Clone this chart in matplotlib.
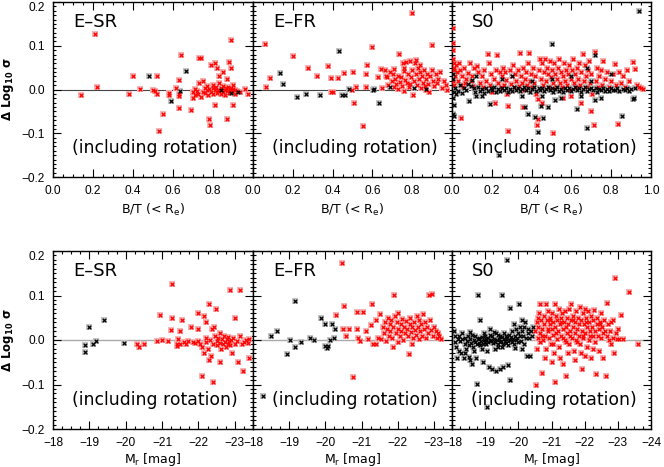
import matplotlib
matplotlib.use("Agg")
import matplotlib.pyplot as plt
from matplotlib.ticker import MultipleLocator, FixedLocator, FixedFormatter
import numpy as np

# ---------------- data: top row (B/T, delta log sigma) ----------------
esr_top_red = [(0.14,-0.013),(0.21,0.126),(0.22,0.006),(0.38,-0.010),(0.40,0.032),(0.435,0.001),(0.50,-0.002),(0.51,-0.003),
    (0.52,0.031),(0.52,-0.010),(0.53,-0.095),(0.55,-0.056),(0.58,-0.007),(0.58,-0.012),(0.615,0.003),(0.63,-0.010),(0.63,-0.015),
    (0.63,0.022),(0.63,-0.043),(0.64,0.080),(0.69,-0.047),(0.70,-0.005),(0.70,-0.020),(0.71,0.002),(0.72,-0.003),(0.725,-0.010),
    (0.73,0.015),(0.73,0.072),(0.74,0.072),(0.74,-0.018),(0.75,0.020),(0.75,-0.005),(0.76,0.003),(0.76,-0.008),(0.77,-0.001),
    (0.77,0.008),(0.775,-0.012),(0.78,-0.067),(0.785,-0.080),(0.78,0.002),(0.79,0.055),(0.79,-0.005),(0.80,-0.010),(0.80,0.003),
    (0.80,0.010),(0.81,0.060),(0.81,-0.036),(0.81,-0.002),(0.815,0.005),(0.82,0.050),(0.82,-0.008),(0.825,0.000),(0.83,0.030),
    (0.83,0.016),(0.83,-0.004),(0.84,-0.010),(0.84,0.004),(0.845,-0.002),(0.85,0.040),(0.85,0.008),(0.85,-0.006),(0.86,0.000),
    (0.86,-0.012),(0.865,0.004),(0.87,0.023),(0.87,-0.068),(0.87,-0.003),(0.875,0.006),(0.88,0.062),(0.88,-0.008),(0.885,0.000),
    (0.89,0.113),(0.89,0.050),(0.89,0.003),(0.895,-0.005),(0.90,-0.036),(0.90,0.001),(0.91,-0.002),(0.91,-0.010),(0.92,-0.004),
    (0.935,-0.006),(0.71,-0.012),(0.96,0.001),(0.975,-0.010),(0.90,0.011)]
esr_top_blk = [(0.48,0.030),(0.59,-0.026),(0.665,0.042),(0.635,-0.003),(0.84,-0.002),(0.89,-0.008),(0.925,-0.005)]

efr_top_red = [(0.06,0.104),(0.063,0.006),(0.085,0.026),(0.20,0.076),(0.277,0.050),(0.32,0.030),(0.377,0.054),(0.39,0.026),
    (0.39,-0.006),(0.40,-0.006),(0.427,0.027),(0.455,0.037),(0.498,0.000),(0.50,0.039),(0.51,-0.030),(0.52,0.006),(0.552,-0.083),
    (0.568,0.006),(0.57,0.036),(0.575,0.056),(0.597,0.098),(0.627,0.028),(0.643,0.048),(0.65,0.004),(0.665,0.045),(0.67,0.030),
    (0.675,0.028),(0.68,0.010),(0.69,0.040),(0.70,0.020),(0.705,0.035),(0.71,0.005),(0.715,0.025),(0.72,0.012),(0.73,0.030),
    (0.735,0.081),(0.74,0.018),(0.745,0.028),(0.75,0.008),(0.755,0.060),(0.757,0.050),(0.76,0.042),(0.765,0.022),(0.77,0.062),
    (0.775,0.015),(0.78,0.035),(0.785,0.005),(0.79,0.065),(0.795,0.028),(0.798,0.176),(0.80,0.045),(0.805,-0.013),(0.81,0.020),
    (0.815,0.060),(0.82,0.035),(0.825,0.010),(0.83,0.050),(0.835,0.025),(0.84,0.040),(0.845,0.003),(0.85,0.030),(0.855,0.015),
    (0.86,0.045),(0.865,0.008),(0.87,0.025),(0.875,0.035),(0.88,0.012),(0.885,-0.005),(0.89,0.030),(0.898,0.102),(0.90,0.045),
    (0.905,0.020),(0.91,0.008),(0.92,0.035),(0.925,0.015),(0.93,0.025),(0.94,0.040),(0.95,0.003),(0.96,0.020),(0.97,0.010),
    (0.975,0.000),(0.71,0.048),(0.73,0.002),(0.82,0.068),(0.84,0.055),(0.76,-0.003),(0.87,0.000),(0.79,0.012)]
efr_top_blk = [(0.138,0.037),(0.152,0.013),(0.223,-0.016),(0.265,-0.011),(0.335,-0.013),(0.43,0.089),(0.447,-0.012),(0.463,-0.012),
    (0.48,0.001),(0.605,0.000),(0.61,0.001),(0.632,-0.031),(0.69,0.005),(0.81,0.003),(0.87,0.002)]

s0_top_red = [(0.003,0.141),(0.003,0.107),(0.005,0.090),(0.005,0.070),(0.008,0.060),(0.010,0.050),(0.012,0.045),(0.015,0.030),
    (0.005,0.020),(0.010,0.010),(0.020,0.055),(0.025,0.040),(0.030,0.020),(0.035,0.060),(0.040,0.045),(0.045,0.010),(0.044,-0.064),
    (0.050,0.030),(0.055,0.005),(0.060,0.050),(0.065,0.015),(0.070,0.025),(0.080,0.038),(0.090,0.060),(0.095,0.020),(0.100,0.030),
    (0.105,0.008),(0.110,0.050),(0.124,0.053),(0.130,0.040),(0.140,0.015),(0.150,0.030),(0.155,0.005),(0.160,0.045),(0.170,0.020),
    (0.183,0.081),(0.185,0.060),(0.190,0.010),(0.195,0.035),(0.200,-0.005),(0.210,0.025),(0.215,-0.030),(0.220,0.045),(0.228,0.080),
    (0.230,0.015),(0.240,0.040),(0.245,0.005),(0.250,0.030),(0.255,0.050),(0.260,0.010),(0.265,0.040),(0.270,0.022),(0.275,-0.010),
    (0.283,-0.095),(0.283,-0.037),(0.290,0.045),(0.295,0.012),(0.300,0.030),(0.305,0.055),(0.310,0.005),(0.315,0.035),(0.320,0.020),
    (0.330,0.045),(0.335,0.008),(0.340,0.083),(0.345,0.030),(0.350,0.015),(0.355,0.050),(0.360,0.000),(0.365,0.025),(0.370,0.040),
    (0.375,0.010),(0.380,0.060),(0.387,0.084),(0.390,0.020),(0.395,0.035),(0.400,0.005),(0.405,0.050),(0.410,0.015),(0.415,0.030),
    (0.420,-0.010),(0.426,-0.081),(0.430,-0.022),(0.432,-0.067),(0.435,0.045),(0.440,0.070),(0.445,0.025),(0.450,0.060),(0.455,0.010),
    (0.460,0.040),(0.465,0.070),(0.470,0.020),(0.475,0.050),(0.480,0.035),(0.485,0.005),(0.490,0.065),(0.495,0.028),(0.500,0.045),
    (0.506,-0.100),(0.510,0.015),(0.515,0.060),(0.520,0.035),(0.525,0.005),(0.530,0.025),(0.535,0.050),(0.540,0.070),(0.545,0.015),
    (0.550,0.040),(0.555,0.005),(0.560,0.030),(0.565,0.060),(0.570,0.020),(0.575,0.045),(0.580,0.010),(0.585,0.035),(0.590,0.055),
    (0.595,0.000),(0.600,0.025),(0.605,0.045),(0.610,0.070),(0.615,0.015),(0.620,0.035),(0.625,0.005),(0.630,0.050),(0.635,0.025),
    (0.640,0.060),(0.645,0.010),(0.650,0.040),(0.660,0.081),(0.665,0.020),(0.670,0.055),(0.675,0.030),(0.680,0.005),(0.685,0.045),
    (0.690,0.065),(0.695,0.015),(0.700,0.035),(0.705,-0.010),(0.714,-0.081),(0.720,0.085),(0.725,0.020),(0.730,0.050),(0.735,0.005),
    (0.740,0.030),(0.750,0.045),(0.755,0.010),(0.760,0.065),(0.770,0.025),(0.780,0.040),(0.790,0.005),(0.800,0.020),(0.810,0.035),
    (0.819,0.058),(0.825,0.010),(0.836,-0.078),(0.840,0.040),(0.850,0.015),(0.860,0.030),(0.870,0.005),(0.880,0.045),(0.890,0.020),
    (0.908,0.063),(0.920,0.048),(0.930,0.010),(0.940,0.005),(0.950,0.003),(0.960,0.002),(0.355,-0.040),(0.450,-0.030),(0.600,-0.015),
    (0.650,-0.030),(0.700,-0.050),(0.560,-0.020)]
s0_top_blk = [(0.003,0.035),(0.005,0.025),(0.008,-0.005),(0.005,-0.020),(0.010,-0.035),(0.006,-0.055),(0.012,-0.060),(0.015,0.003),
    (0.020,-0.010),(0.030,-0.003),(0.040,0.010),(0.050,-0.008),(0.060,0.004),(0.070,-0.002),(0.080,0.012),(0.087,-0.027),(0.095,0.008),
    (0.100,0.022),(0.110,0.003),(0.115,-0.005),(0.120,-0.015),(0.130,0.006),(0.140,-0.003),(0.150,0.002),(0.160,-0.008),(0.170,0.004),
    (0.180,-0.004),(0.190,-0.033),(0.195,0.003),(0.200,-0.002),(0.210,0.005),(0.220,-0.006),(0.230,0.002),(0.235,-0.150),(0.240,-0.003),
    (0.250,0.004),(0.260,-0.001),(0.270,0.003),(0.280,-0.005),(0.290,0.002),(0.300,-0.003),(0.310,0.006),(0.320,-0.002),(0.330,0.003),
    (0.340,-0.004),(0.350,0.001),(0.360,0.005),(0.367,-0.041),(0.370,-0.002),(0.380,0.003),(0.384,-0.056),(0.390,-0.005),(0.400,0.002),
    (0.410,0.006),(0.417,-0.063),(0.420,-0.003),(0.430,-0.096),(0.435,0.004),(0.440,-0.001),(0.446,-0.037),(0.450,0.003),(0.455,-0.064),
    (0.460,-0.004),(0.470,0.002),(0.480,0.006),(0.490,-0.002),(0.500,0.104),(0.505,0.003),(0.510,-0.005),(0.520,0.001),(0.530,0.005),
    (0.540,-0.003),(0.550,0.002),(0.560,-0.006),(0.570,0.004),(0.580,-0.001),(0.590,0.003),(0.600,-0.004),(0.610,0.001),(0.620,0.005),
    (0.626,-0.044),(0.630,-0.002),(0.640,0.003),(0.650,-0.005),(0.660,0.002),(0.670,0.006),(0.677,-0.089),(0.680,-0.003),(0.690,0.001),
    (0.700,0.004),(0.710,-0.002),(0.720,0.078),(0.725,0.003),(0.730,-0.005),(0.740,0.002),(0.750,-0.001),(0.760,0.004),(0.770,-0.003),
    (0.780,0.002),(0.790,-0.004),(0.800,0.003),(0.810,0.000),(0.820,-0.002),(0.830,0.004),(0.840,-0.003),(0.853,-0.061),(0.860,0.002),
    (0.870,-0.001),(0.880,0.003),(0.890,-0.004),(0.900,0.001),(0.908,-0.021),(0.915,-0.020),(0.920,0.003),(0.940,0.179),(0.250,0.025),
    (0.300,0.030),(0.400,0.020),(0.500,0.025),(0.600,0.030),(0.700,0.020),(0.450,-0.015),(0.550,-0.020),(0.650,-0.015),(0.750,-0.020),
    (0.350,-0.015),(0.150,-0.015),(0.800,0.035),(0.120,0.030),(0.480,-0.040),(0.520,-0.025),(0.680,0.050),(0.720,-0.025)]

# ---------------- data: bottom row (M_r, delta log sigma) ----------------
esr_bot_red = [(-20.30,-0.010),(-20.36,-0.015),(-20.50,-0.008),(-20.85,-0.002),(-21.00,-0.001),(-20.94,0.057),(-21.15,-0.002),
    (-21.26,0.125),(-21.26,0.050),(-21.25,0.022),(-21.40,-0.008),(-21.42,-0.014),(-21.45,0.002),(-21.50,0.020),(-21.55,0.044),
    (-21.48,-0.008),(-21.60,-0.005),(-21.65,-0.010),(-21.70,-0.003),(-21.80,0.030),(-21.85,-0.004),(-21.90,-0.006),(-21.98,0.025),
    (-21.99,0.060),(-22.00,-0.003),(-22.05,-0.008),(-22.09,-0.080),(-22.10,-0.015),(-22.15,-0.030),(-22.20,-0.005),(-22.22,0.004),
    (-22.25,-0.020),(-22.29,0.080),(-22.30,-0.045),(-22.32,0.000),(-22.35,-0.035),(-22.40,-0.095),(-22.40,-0.010),(-22.42,0.030),
    (-22.45,0.008),(-22.48,0.070),(-22.50,-0.002),(-22.52,-0.012),(-22.55,0.005),(-22.58,-0.006),(-22.60,0.015),(-22.62,-0.020),
    (-22.65,0.002),(-22.68,-0.010),(-22.70,0.010),(-22.72,-0.004),(-22.75,-0.015),(-22.78,0.003),(-22.80,-0.008),(-22.82,0.006),
    (-22.85,-0.002),(-22.86,0.113),(-22.88,-0.012),(-22.90,0.000),(-22.92,-0.030),(-22.95,0.005),(-23.00,0.050),(-23.00,-0.008),
    (-23.05,-0.003),(-23.10,-0.050),(-23.14,0.113),(-23.15,0.010),(-23.20,-0.008),(-23.23,-0.070),(-23.26,-0.004),(-23.30,0.000),
    (-23.35,-0.006),(-23.40,0.003),(-23.40,-0.040),(-22.20,0.040),(-22.38,0.025),(-22.15,0.055),(-22.60,-0.050)]
esr_bot_blk = [(-18.87,-0.012),(-18.87,-0.026),(-18.98,0.030),(-19.10,-0.008),(-19.19,-0.003),(-19.40,0.044),(-19.95,-0.006)]

efr_bot_red = [(-20.30,0.057),(-20.45,0.174),(-20.51,0.076),(-20.48,0.024),(-20.57,0.009),(-20.65,0.024),(-20.76,-0.084),(-20.87,0.062),
    (-21.05,0.062),(-20.87,0.024),(-20.90,0.005),(-20.95,-0.002),(-21.12,0.020),(-21.17,0.002),(-21.26,0.033),(-21.30,0.081),
    (-21.32,-0.008),(-21.40,0.045),(-21.50,0.058),(-21.45,0.005),(-21.55,0.002),(-21.60,0.030),(-21.62,0.015),(-21.65,0.040),
    (-21.68,-0.003),(-21.70,0.025),(-21.72,0.050),(-21.75,0.010),(-21.78,0.035),(-21.80,0.020),(-21.82,0.045),(-21.85,0.005),
    (-21.86,-0.016),(-21.88,0.030),(-21.90,0.101),(-21.92,0.055),(-21.95,0.015),(-21.98,0.040),(-22.00,0.025),(-22.02,0.060),
    (-22.05,0.008),(-22.08,0.035),(-22.10,0.020),(-22.12,0.048),(-22.15,0.000),(-22.18,0.030),(-22.20,0.015),(-22.22,0.042),
    (-22.25,0.025),(-22.28,0.008),(-22.31,-0.032),(-22.33,0.035),(-22.35,0.050),(-22.38,0.018),(-22.40,0.030),(-22.42,0.005),
    (-22.45,0.040),(-22.48,0.022),(-22.50,0.012),(-22.52,0.055),(-22.55,0.030),(-22.58,0.002),(-22.60,0.045),(-22.62,0.020),
    (-22.65,0.035),(-22.68,0.010),(-22.70,0.058),(-22.72,0.025),(-22.75,0.040),(-22.78,0.005),(-22.80,0.030),(-22.83,0.015),
    (-22.86,0.101),(-22.95,0.103),(-22.90,0.045),(-22.92,0.022),(-22.98,0.010),(-23.00,0.030),(-23.05,0.020),(-23.08,0.005),
    (-23.10,0.015),(-23.15,0.010),(-23.20,0.002),(-21.40,-0.010),(-22.00,-0.005),(-22.40,-0.008)]
efr_bot_blk = [(-18.49,0.010),(-18.67,0.020),(-19.03,0.001),(-19.15,0.088),(-19.16,-0.015),(-18.95,-0.032),(-19.34,-0.004),
    (-19.58,0.005),(-19.68,0.000),(-19.89,0.050),(-20.00,0.036),(-20.00,-0.013),(-20.04,-0.017),(-20.08,-0.013),(-20.12,0.000),
    (-20.19,0.035),(-20.25,0.005),(-20.28,0.025),(-18.28,-0.126)]

s0_bot_red = [(-20.50,0.020),(-20.52,-0.100),(-20.55,0.040),(-20.58,0.005),(-20.60,0.030),(-20.62,0.060),(-20.65,0.080),(-20.66,0.015),
    (-20.68,0.045),(-20.70,-0.075),(-20.72,0.025),(-20.74,0.000),(-20.76,0.055),(-20.78,0.035),(-20.80,0.010),(-20.82,0.080),
    (-20.84,-0.020),(-20.86,0.045),(-20.88,0.020),(-20.90,0.065),(-20.92,0.005),(-20.94,0.035),(-20.96,0.050),(-20.98,-0.010),
    (-21.00,0.025),(-21.02,0.060),(-21.04,0.012),(-21.06,0.040),(-21.08,-0.030),(-21.10,0.080),(-21.10,-0.095),(-21.12,0.030),
    (-21.14,0.055),(-21.16,0.003),(-21.18,0.045),(-21.20,0.020),(-21.22,0.070),(-21.24,-0.015),(-21.26,0.035),(-21.28,0.050),
    (-21.30,0.010),(-21.32,0.060),(-21.34,0.025),(-21.36,-0.054),(-21.38,0.040),(-21.40,0.000),(-21.42,0.065),(-21.44,0.030),
    (-21.45,-0.082),(-21.46,0.015),(-21.48,0.050),(-21.50,0.035),(-21.52,-0.010),(-21.54,0.070),(-21.56,0.020),(-21.58,0.045),
    (-21.60,0.080),(-21.62,0.005),(-21.64,0.055),(-21.66,0.030),(-21.68,-0.025),(-21.70,0.040),(-21.72,0.015),(-21.74,0.065),
    (-21.76,0.025),(-21.78,-0.005),(-21.80,0.050),(-21.82,0.035),(-21.84,0.010),(-21.86,0.075),(-21.88,-0.030),(-21.90,0.045),
    (-21.92,0.020),(-21.93,-0.065),(-21.94,0.060),(-21.96,0.005),(-21.98,0.035),(-22.00,0.070),(-22.02,0.015),(-22.04,0.050),
    (-22.06,-0.015),(-22.08,0.030),(-22.10,0.065),(-22.12,0.000),(-22.14,0.040),(-22.16,0.020),(-22.18,0.055),(-22.20,-0.040),
    (-22.22,0.030),(-22.24,0.010),(-22.26,0.045),(-22.28,0.068),(-22.30,0.020),(-22.32,-0.005),(-22.34,-0.076),(-22.36,0.035),
    (-22.38,0.050),(-22.40,0.010),(-22.42,0.025),(-22.44,-0.025),(-22.46,0.040),(-22.48,0.060),(-22.50,0.005),(-22.52,0.030),
    (-22.54,0.015),(-22.56,-0.040),(-22.58,0.045),(-22.60,0.020),(-22.63,-0.080),(-22.66,0.083),(-22.68,0.010),(-22.70,0.035),
    (-22.72,0.000),(-22.75,0.020),(-22.78,-0.010),(-22.80,0.040),(-22.84,0.046),(-22.86,0.005),(-22.88,-0.030),(-22.91,0.140),
    (-22.94,0.015),(-22.98,0.002),(-23.02,0.025),(-23.05,0.003),(-23.10,0.057),(-23.15,0.002),(-23.34,0.107),(-23.60,-0.008),
    (-20.55,-0.020),(-20.80,-0.040),(-21.00,-0.050),(-21.25,-0.040),(-21.50,-0.030),(-21.70,-0.045),(-22.00,-0.035),(-22.25,-0.020),
    (-20.70,0.010),(-20.90,0.025),(-21.15,0.015),(-21.35,0.005),(-21.55,0.010),(-21.75,0.000),(-21.95,0.010),(-22.15,0.008),
    (-20.60,0.050),(-20.95,0.045),(-21.30,0.040),(-21.65,0.045),(-22.05,0.040),(-22.45,0.035),(-20.65,-0.005),(-21.05,-0.008),
    (-21.45,-0.005),(-21.85,-0.008)]
s0_bot_blk = [(-18.05,0.020),(-18.08,-0.005),(-18.10,0.010),(-18.12,-0.015),(-18.16,-0.040),(-18.18,0.003),(-18.20,-0.025),
    (-18.22,0.008),(-18.25,-0.003),(-18.28,-0.030),(-18.30,0.002),(-18.35,-0.040),(-18.38,-0.008),(-18.40,0.005),(-18.42,-0.020),
    (-18.45,-0.002),(-18.48,0.010),(-18.50,-0.012),(-18.52,-0.038),(-18.55,0.003),(-18.58,-0.006),(-18.60,0.012),(-18.62,-0.015),
    (-18.65,0.000),(-18.68,-0.004),(-18.70,0.008),(-18.72,-0.040),(-18.74,-0.010),(-18.76,-0.099),(-18.78,0.002),(-18.79,0.101),
    (-18.80,-0.007),(-18.82,0.004),(-18.84,0.044),(-18.85,-0.012),(-18.88,-0.002),(-18.90,0.006),(-18.92,-0.050),(-18.94,-0.008),
    (-18.96,0.000),(-18.98,-0.004),(-19.00,0.008),(-19.02,-0.010),(-19.04,0.002),(-19.06,-0.150),(-19.08,-0.005),(-19.10,0.005),
    (-19.12,-0.060),(-19.14,-0.003),(-19.16,0.024),(-19.18,0.000),(-19.20,-0.065),(-19.22,0.010),(-19.24,-0.006),(-19.26,0.018),
    (-19.28,0.002),(-19.30,-0.004),(-19.32,0.015),(-19.34,-0.070),(-19.36,0.000),(-19.38,-0.008),(-19.40,0.012),(-19.42,0.003),
    (-19.44,-0.005),(-19.46,0.008),(-19.48,-0.002),(-19.50,0.101),(-19.52,0.006),(-19.54,-0.010),(-19.56,0.002),(-19.58,0.015),
    (-19.60,-0.003),(-19.62,0.009),(-19.64,-0.006),(-19.65,0.179),(-19.66,0.004),(-19.68,-0.002),(-19.70,-0.056),(-19.72,0.012),
    (-19.74,0.001),(-19.75,0.072),(-19.76,-0.091),(-19.78,0.007),(-19.80,-0.004),(-19.82,0.020),(-19.84,0.003),(-19.86,-0.008),
    (-19.88,0.035),(-19.90,0.010),(-19.92,0.000),(-19.94,0.025),(-19.96,0.005),(-19.98,-0.005),(-20.00,0.015),(-20.02,0.081),
    (-20.04,0.008),(-20.06,0.030),(-20.08,-0.002),(-20.10,0.020),(-20.12,0.045),(-20.14,0.010),(-20.16,0.030),(-20.18,-0.010),
    (-20.20,0.040),(-20.22,0.005),(-20.25,-0.036),(-20.28,0.015),(-20.30,0.025),(-20.32,0.005),(-20.35,-0.036),(-20.38,0.020),
    (-20.40,0.010),(-20.45,0.030),(-18.40,-0.030),(-18.55,-0.045),(-18.65,-0.025),(-18.90,-0.020),(-19.05,-0.025),(-19.30,-0.020),
    (-19.50,-0.015),(-19.70,-0.012),(-19.90,-0.018),(-20.10,-0.020),(-18.30,0.015),(-18.55,0.018),(-18.95,0.015),(-19.15,0.012),
    (-19.40,-0.015),(-19.55,-0.060),(-19.45,-0.065),(-18.60,-0.055)]

panel_names = ["E\u2013SR", "E\u2013FR", "S0"]
top_red = [esr_top_red, efr_top_red, s0_top_red]
top_blk = [esr_top_blk, efr_top_blk, s0_top_blk]
bot_red = [esr_bot_red, efr_bot_red, s0_bot_red]
bot_blk = [esr_bot_blk, efr_bot_blk, s0_bot_blk]

bt_ticks = [0.0, 0.2, 0.4, 0.6, 0.8, 1.0]
mr_ticks = [-18, -19, -20, -21, -22, -23, -24]
mr_limits = [(-18, -23.5), (-18, -23.5), (-18, -24)]
y_ticks = [-0.2, -0.1, 0.0, 0.1, 0.2]
y_labels = ["\u22120.2", "\u22120.1", "0.0", "0.1", "0.2"]

plt.rcParams['font.family'] = "DejaVu Sans"
plt.rcParams['mathtext.fontset'] = 'dejavusans'

W, H = 664, 467
fig = plt.figure(figsize=(W / 100, H / 100), dpi=100)

xl = [53, 253, 452]
xr = [253, 452, 651]
rows = [(2, 177), (251, 429)]


def scatter(ax, pts, col, halo):
    a = np.array(pts)
    ax.scatter(a[:, 0], a[:, 1], s=13, marker='s', color=halo, linewidths=0, zorder=2)
    ax.scatter(a[:, 0], a[:, 1], s=7, marker='x', color=col, linewidths=0.9, zorder=3)


def style(ax):
    for sp in ax.spines.values():
        sp.set_linewidth(1.0)
    ax.tick_params(which='both', direction='in', top=True, right=True, width=0.8, colors='black',
                   labelsize=8.6, labelfontfamily='Liberation Sans')
    ax.tick_params(axis='x', which='both', pad=5.5)
    ax.tick_params(axis='y', which='both', pad=6)
    ax.tick_params(which='major', length=5.5)
    ax.tick_params(which='minor', length=2.5)
    ax.set_ylim(-0.2, 0.2)
    ax.yaxis.set_major_locator(FixedLocator(y_ticks))
    ax.yaxis.set_minor_locator(MultipleLocator(0.01))


for r, (yt, yb) in enumerate(rows):
    for c in range(3):
        ax = fig.add_axes([xl[c] / W, 1 - yb / H, (xr[c] - xl[c]) / W, (yb - yt) / H])
        style(ax)
        if r == 0:
            ax.set_xlim(0, 1)
            ax.axhline(0, color='#444444', lw=0.8, zorder=1)
            ticks = bt_ticks if c == 2 else bt_ticks[:-1]
            ax.xaxis.set_major_locator(FixedLocator(bt_ticks))
            ax.xaxis.set_major_formatter(FixedFormatter([f"{t:.1f}" if t in ticks else "" for t in bt_ticks]))
            ax.xaxis.set_minor_locator(MultipleLocator(0.05))
            ax.set_xlabel(r"B/T (< R$_\mathregular{e}$)", fontsize=9, labelpad=4)
            scatter(ax, top_red[c], '#ff0000', '#f6b4b4')
            scatter(ax, top_blk[c], '#000000', '#c4c4c4')
        else:
            lo, hi = mr_limits[c]
            ax.set_xlim(lo, hi)
            ax.axhline(0, color='#aaaaaa', lw=1.0, zorder=1)
            tk = [t for t in mr_ticks if t >= hi]
            ax.xaxis.set_major_locator(FixedLocator(tk))
            ax.xaxis.set_major_formatter(FixedFormatter([f"\u2212{abs(t)}" for t in tk]))
            ax.xaxis.set_minor_locator(MultipleLocator(0.25))
            ax.set_xlabel(r"M$_\mathregular{r}$ [mag]", fontsize=9, labelpad=2)
            scatter(ax, bot_blk[c], '#000000', '#c4c4c4')
            scatter(ax, bot_red[c], '#ff0000', '#f6b4b4')
        if c == 0:
            ax.yaxis.set_major_formatter(FixedFormatter(y_labels))
            ax.yaxis.get_major_ticks()[-1].label1.set_verticalalignment('top')
            ax.set_ylabel(r"$\mathbf{\Delta}$ Log$_{\mathbf{10}}$ $\mathbf{\sigma}$", fontsize=8.5,
                          fontweight='bold')
            ax.yaxis.set_label_coords(-0.185, 0.5)
        else:
            ax.set_yticklabels([])
        ax.text(0.10, 0.885, panel_names[c], transform=ax.transAxes, fontsize=13, ha='left', va='center')
        ax.text(0.51, 0.165, "(including rotation)", transform=ax.transAxes, fontsize=12.4,
                ha='center', va='center')

fig.savefig("out.png", dpi=100)
